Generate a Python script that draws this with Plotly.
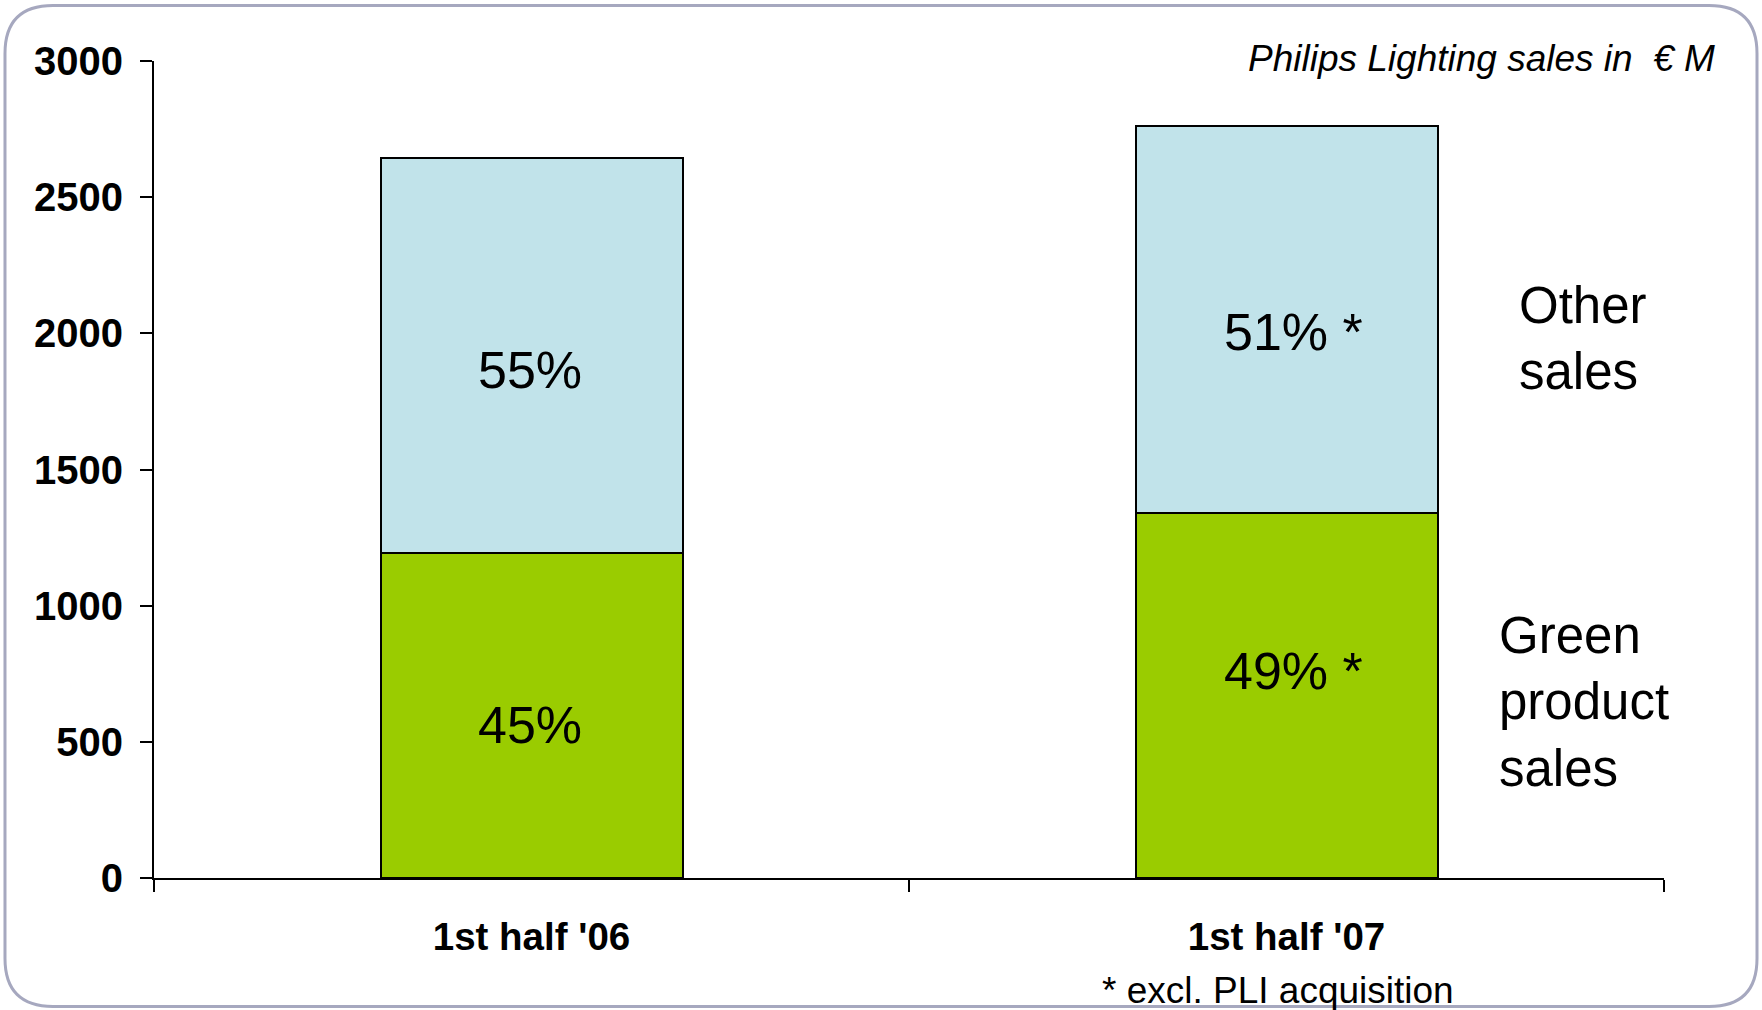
import plotly.graph_objects as go

categories = ["1st half '06", "1st half '07"]
green_sales = [1195, 1340]
other_sales = [1448, 1422]
green_labels = ["45%", "49% *"]
other_labels = ["55%", "51% *"]
y_ticks = [0, 500, 1000, 1500, 2000, 2500, 3000]

W, H = 1762, 1010
L, R, T, B = 154, 98, 61, 131.5
pw, ph = W - L - R, H - T - B

FONT = "Arial, 'Liberation Sans', sans-serif"
GREEN = "#9ACC00"
BLUE = "#C1E3EA"

fig = go.Figure()
fig.add_trace(go.Bar(x=categories, y=green_sales, marker=dict(color=GREEN, line=dict(color="black", width=2)),
                     width=0.4, hoverinfo="skip"))
fig.add_trace(go.Bar(x=categories, y=other_sales, marker=dict(color=BLUE, line=dict(color="black", width=2)),
                     width=0.4, hoverinfo="skip"))

ann = []
# segment percentage labels
shifts_g = [-10, 25]
shifts_o = [-15, -13]
xshifts = [-2, 7]
for i, c in enumerate(categories):
    ann.append(dict(x=c, y=green_sales[i] / 2, text=green_labels[i], showarrow=False, xref="x", yref="y",
                    yshift=shifts_g[i], xshift=xshifts[i], font=dict(size=52, color="black", family=FONT)))
    ann.append(dict(x=c, y=green_sales[i] + other_sales[i] / 2, text=other_labels[i], showarrow=False,
                    xref="x", yref="y", yshift=shifts_o[i], xshift=xshifts[i],
                    font=dict(size=52, color="black", family=FONT)))

def px2paper(px, py):
    return (px - L) / pw, (H - B - py) / ph

# legend-like side labels
x, y = px2paper(1517, 339)
ann.append(dict(x=x, y=y, xref="paper", yref="paper", xanchor="left", yanchor="middle", align="left",
                text="Other<br>sales", showarrow=False, font=dict(size=51, color="black", family=FONT)))
x, y = px2paper(1497, 702)
ann.append(dict(x=x, y=y, xref="paper", yref="paper", xanchor="left", yanchor="middle", align="left",
                text="Green<br>product<br>sales", showarrow=False, font=dict(size=51, color="black", family=FONT)))
# title
x, y = px2paper(1717, 58)
ann.append(dict(x=x, y=y, xref="paper", yref="paper", xanchor="right", yanchor="middle",
                text="<i>Philips Lighting sales in \u00a0€ M</i>", showarrow=False,
                font=dict(size=37, color="black", family=FONT)))
# footnote
x, y = px2paper(1278, 991)
ann.append(dict(x=x, y=y, xref="paper", yref="paper", xanchor="center", yanchor="middle",
                text="* excl. PLI acquisition", showarrow=False, font=dict(size=37, color="black", family=FONT)))

# rounded border
x0, y0, x1, y1, r = 5, 5.5, 1757, 1007, 48
def P(px, py):
    a, b = px2paper(px, py)
    return f"{a:.5f},{b:.5f}"
path = (f"M {P(x0 + r, y0)} L {P(x1 - r, y0)} Q {P(x1, y0)} {P(x1, y0 + r)} "
        f"L {P(x1, y1 - r)} Q {P(x1, y1)} {P(x1 - r, y1)} L {P(x0 + r, y1)} "
        f"Q {P(x0, y1)} {P(x0, y1 - r)} L {P(x0, y0 + r)} Q {P(x0, y0)} {P(x0 + r, y0)} Z")

fig.update_layout(
    barmode="stack",
    width=W, height=H,
    margin=dict(l=L, r=R, t=T, b=B, autoexpand=False),
    paper_bgcolor="white", plot_bgcolor="white",
    showlegend=False,
    annotations=ann,
    shapes=[dict(type="path", path=path, xref="paper", yref="paper",
                 line=dict(color="#A6A8BF", width=3), layer="below")],
    xaxis=dict(range=[-0.5, 1.5], showline=True, linecolor="black", linewidth=2,
               ticks="outside", tickson="boundaries", ticklen=12, tickcolor="black", tickwidth=2,
               showgrid=False, zeroline=False, ticklabelstandoff=24,
               tickfont=dict(size=38.5, color="black", family=FONT, weight="bold")),
    yaxis=dict(range=[0, 3000], tickvals=y_ticks, showline=True, linecolor="black", linewidth=2,
               ticks="outside", ticklen=12, tickcolor="black", tickwidth=2,
               showgrid=False, zeroline=False, ticklabelstandoff=9,
               tickfont=dict(size=40, color="black", family=FONT, weight="bold")),
)

fig.write_html("out.html")
